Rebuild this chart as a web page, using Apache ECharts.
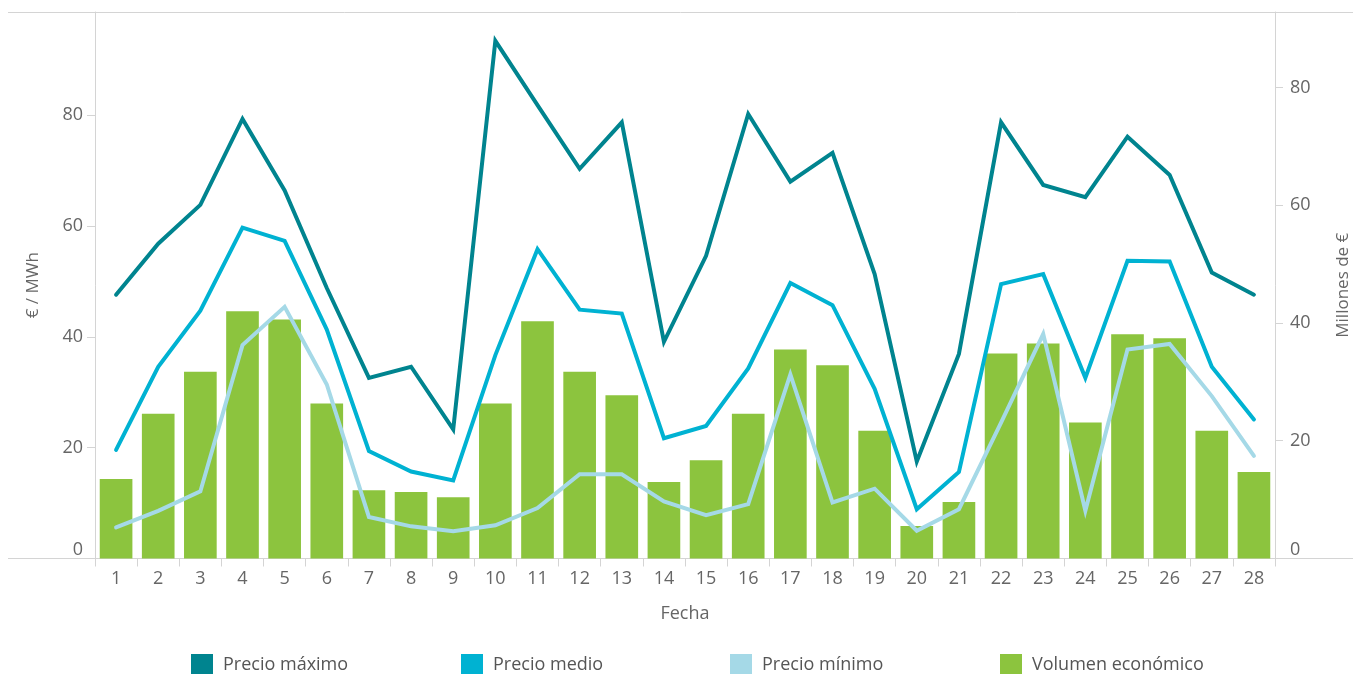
<!DOCTYPE html>
<html>
<head>
<meta charset="utf-8">
<title>Precios y volumen económico</title>
<script src="https://cdn.jsdelivr.net/npm/echarts@6/dist/echarts.min.js"></script>
<style>
  html, body { margin: 0; padding: 0; background: #ffffff; }
  #chart { width: 1353px; height: 674px; }
</style>
</head>
<body>
<div id="chart"></div>
<script>
// Días del mes
const days = ['1','2','3','4','5','6','7','8','9','10','11','12','13','14','15','16','17','18','19','20','21','22','23','24','25','26','27','28'];

// Precios (€/MWh)
const precioMaximo = [47.6,56.8,63.8,79.3,66.4,48.8,32.6,34.6,23.3,93.4,81.8,70.3,78.7,39.1,54.6,80.2,68.0,73.2,51.3,17.5,36.9,78.7,67.4,65.2,76.1,69.2,51.6,47.6];
const precioMedio  = [19.6,34.6,44.7,59.7,57.3,41.3,19.4,15.7,14.1,36.7,55.8,44.9,44.2,21.7,23.9,34.3,49.7,45.7,30.6,8.9,15.6,49.5,51.3,32.6,53.7,53.6,34.6,25.1];
const precioMinimo = [5.6,8.6,12.1,38.5,45.4,31.4,7.5,5.8,4.9,6.0,9.1,15.2,15.2,10.3,7.8,9.8,33.2,10.1,12.6,5.0,8.9,24.5,40.5,8.6,37.7,38.7,29.3,18.5];

// Volumen económico (millones de €)
const volumenEconomico = [13.5,24.6,31.7,42.0,40.6,26.3,11.6,11.3,10.4,26.3,40.3,31.7,27.7,13.0,16.7,24.6,35.5,32.8,21.7,5.5,9.6,34.8,36.5,23.1,38.1,37.4,21.7,14.7];

// Marcas de los ejes
const tickValues = [0, 20, 40, 60, 80];

const FONT = '"Open Sans", "Noto Sans", sans-serif';
const AXIS_GREY = '#d4d4d4';
const TEXT_GREY = '#666666';
const colors = {
  max: '#00848F',
  medio: '#00B2D2',
  min: '#A5D9E7',
  volumen: '#8CC43E'
};

const chart = echarts.init(document.getElementById('chart'), null, { renderer: 'canvas' });

function yAxisBase(position, maxValue, name, nameGap, labelMargin) {
  return {
    type: 'value',
    position: position,
    min: 0,
    max: maxValue,
    name: name,
    nameLocation: 'middle',
    nameRotate: 90,
    nameGap: nameGap,
    nameTextStyle: { color: TEXT_GREY, fontSize: 17, fontFamily: FONT },
    splitLine: { show: false },
    axisLine: { show: true, lineStyle: { color: AXIS_GREY, width: 1 } },
    axisTick: { show: true, length: 8, customValues: tickValues, lineStyle: { color: AXIS_GREY } },
    axisLabel: {
      customValues: tickValues,
      color: TEXT_GREY,
      fontSize: 18,
      fontFamily: FONT,
      margin: labelMargin,
      verticalAlignMinLabel: 'bottom'
    }
  };
}

function lineSeries(name, data, color) {
  return {
    name: name,
    type: 'line',
    yAxisIndex: 0,
    data: data,
    symbol: 'none',
    z: 3,
    lineStyle: { color: color, width: 4, cap: 'round', join: 'miter' },
    itemStyle: { color: color },
    emphasis: { disabled: true }
  };
}

function legendAt(left, name) {
  return {
    data: [name],
    left: left,
    top: 654,
    padding: 0,
    icon: 'rect',
    itemWidth: 22,
    itemHeight: 21,
    itemGap: 0,
    selectedMode: false,
    textStyle: { color: '#555555', fontSize: 18, fontFamily: FONT, lineHeight: 21, padding: [0, 0, 0, 5] }
  };
}

chart.setOption({
  animation: false,
  backgroundColor: '#ffffff',
  grid: { left: 95, right: 78, top: 12, bottom: 115.5, containLabel: false, outerBoundsMode: 'none' },
  legend: [
    legendAt(191, 'Precio máximo'),
    legendAt(461, 'Precio medio'),
    legendAt(730, 'Precio mínimo'),
    legendAt(1000, 'Volumen económico')
  ],
  xAxis: {
    type: 'category',
    data: days,
    boundaryGap: true,
    name: 'Fecha',
    nameLocation: 'middle',
    nameGap: 46,
    nameTextStyle: { color: TEXT_GREY, fontSize: 18, fontFamily: FONT },
    axisLine: { show: false },
    axisTick: { show: true, length: 8, lineStyle: { color: AXIS_GREY } },
    axisLabel: { color: TEXT_GREY, fontSize: 18, fontFamily: FONT, margin: 11 },
    splitLine: { show: false }
  },
  yAxis: [
    yAxisBase('left', 98.6, '€ / MWh', 53, 12),
    yAxisBase('right', 92.8, 'Millones de €', 60, 15)
  ],
  graphic: [
    // Líneas horizontales del marco, a todo el ancho
    { type: 'line', shape: { x1: 8, y1: 12.5, x2: 1353, y2: 12.5 }, style: { stroke: AXIS_GREY, lineWidth: 1 }, silent: true },
    { type: 'line', shape: { x1: 8, y1: 558.5, x2: 1353, y2: 558.5 }, style: { stroke: AXIS_GREY, lineWidth: 1 }, silent: true }
  ],
  series: [
    {
      name: 'Volumen económico',
      type: 'bar',
      yAxisIndex: 1,
      data: volumenEconomico,
      barWidth: '77.5%',
      z: 2,
      itemStyle: { color: colors.volumen },
      emphasis: { disabled: true }
    },
    lineSeries('Precio máximo', precioMaximo, colors.max),
    lineSeries('Precio medio', precioMedio, colors.medio),
    lineSeries('Precio mínimo', precioMinimo, colors.min)
  ]
});
</script>
</body>
</html>
